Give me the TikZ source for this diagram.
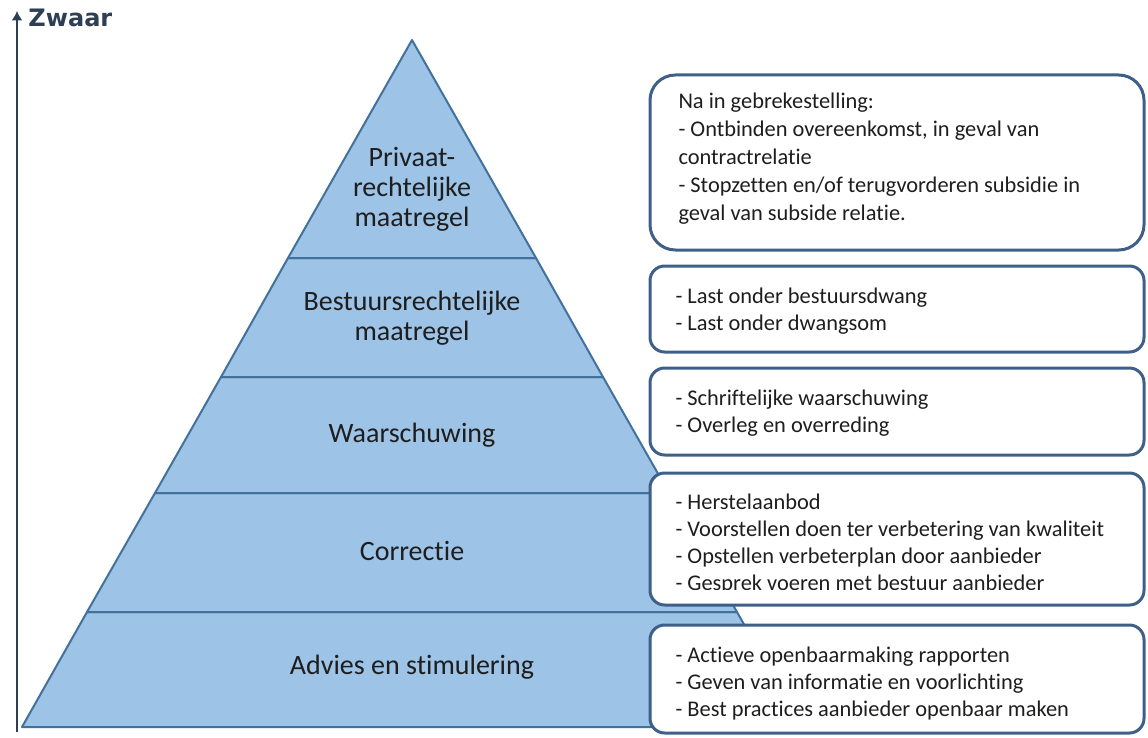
\documentclass[tikz,border=0pt]{standalone}
\usepackage{fontspec}
\setmainfont{Carlito}[Ligatures=NoCommon]
\newfontfamily\axisfont{DejaVu Sans}
\usetikzlibrary{arrows.meta}

\definecolor{layerfill}{HTML}{9DC3E6}
\definecolor{layerline}{HTML}{41719C}
\definecolor{boxline}{HTML}{3E5F88}
\definecolor{axisink}{HTML}{2E3F54}
\definecolor{textink}{HTML}{1E1E1E}

\tikzset{every picture/.style={line width=0.75pt}}
\tikzset{
  layer/.style={draw=layerline, fill=layerfill, line width=1.5pt, line join=round},
  layerlabel/.style={inner sep=0.75pt, align=center, text=textink, font=\fontsize{21}{22.5}\selectfont},
  measurebox/.style={draw=boxline, fill=white, line width=2.25pt, rounded corners=11pt},
  measuretext/.style={anchor=north west, inner sep=0.75pt, align=left, text=textink, font=\fontsize{16.8}{20.4}\selectfont},
}

\begin{document}
\begin{tikzpicture}[x=0.75pt,y=0.75pt,yscale=-1,xscale=1]
        \useasboundingbox (0,0) rectangle (1148,738);
        %Axis
        \coordinate (axbot) at (17,732);
        \coordinate (axtop) at (17,11);
        \draw[axisink, line width=1.1pt, -{Latex[length=7pt,width=8pt]}] (axbot) -- (axtop);
        % Text Node
        \draw (axtop) ++(10,7) node (zwaar) [anchor=west][inner sep=0.75pt][text=axisink, font=\axisfont\bfseries\fontsize{18}{19}\selectfont] {Zwaar};

        %Pyramid layers (bottom to top)
        \draw[layer] (22,727) -- (802,727) -- (737,612) -- (87,612) -- cycle ;
        \draw[layer] (87,612) -- (737,612) -- (669,493) -- (155,493) -- cycle ;
        \draw[layer] (155,493) -- (669,493) -- (603,377) -- (221,377) -- cycle ;
        \draw[layer] (221,377) -- (603,377) -- (536,258) -- (288,258) -- cycle ;
        \draw[layer] (288,258) -- (536,258) -- (412,40) -- cycle ;

        % Text Node
        \draw (412,189) node (privaat) [layerlabel] {Privaat-\\rechtelijke\\maatregel};
        % Text Node
        \draw (412,318) node (bestuur) [layerlabel] {Bestuursrechtelijke\\maatregel};
        % Text Node
        \draw (412,435) node (waarsch) [layerlabel] {Waarschuwing};
        % Text Node
        \draw (412,551) node (correctie) [layerlabel] {Correctie};
        % Text Node
        \draw (412,667) node (advies) [layerlabel] {Advies en stimulering};

        %Rounded boxes
        \draw[measurebox, rounded corners=19pt] (650,75) rectangle (1144,250) ;
        \draw[measurebox] (650,266) rectangle (1144,352) ;
        \draw[measurebox] (650,368) rectangle (1144,455) ;
        \draw[measurebox] (650,473) rectangle (1144,605) ;
        \draw[measurebox] (650,625) rectangle (1144,733) ;

        % Text Node
        \draw (677,91) node (privaatlist) [measuretext, font=\fontsize{16.8}{21}\selectfont] {Na in gebrekestelling:\\- Ontbinden overeenkomst, in geval van\\contractrelatie\\- Stopzetten en/of terugvorderen subsidie in\\geval van subside relatie.};
        % Text Node
        \draw (674,286) node (bestuurlist) [measuretext] {- Last onder bestuursdwang\\- Last onder dwangsom};
        % Text Node
        \draw (674,388) node (waarschlist) [measuretext] {- Schriftelijke waarschuwing\\- Overleg en overreding};
        % Text Node
        \begin{scope}
        \clip (652,475) rectangle (1142,589);
        \draw (674,492) node (correctielist) [measuretext] {- Herstelaanbod\\- Voorstellen doen ter verbetering van kwaliteit\\- Opstellen verbeterplan door aanbieder\\- Gesprek voeren met bestuur aanbieder};
        \end{scope}
        % Text Node
        \draw (674,645) node (advieslist) [measuretext] {- Actieve openbaarmaking rapporten\\- Geven van informatie en voorlichting\\- Best practices aanbieder openbaar maken};
\end{tikzpicture}
\end{document}
